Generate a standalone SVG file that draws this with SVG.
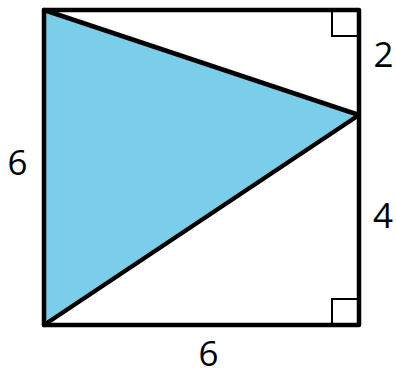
<svg xmlns="http://www.w3.org/2000/svg" width="396" height="375" viewBox="0 0 396 375">
<style>
.lbl{font-family:"Open Sans","Noto Sans",sans-serif;font-size:35px;fill:#000;text-anchor:middle}
.thick{fill:none;stroke:#000;stroke-width:4.5;stroke-linejoin:round;stroke-linecap:round}
.thin{fill:none;stroke:#000;stroke-width:2}
</style>
<rect width="396" height="375" fill="#fff"/>
<g id="triangle">
<polygon points="44,10 359,115 44,325" fill="#7ccde9" stroke="none"/>
</g>
<g id="square">
<rect x="44" y="10" width="315" height="315" class="thick"/>
<path d="M332,10 V36 H359" class="thin"/>
<path d="M332,325 V299 H359" class="thin"/>
</g>
<g id="connectors">
<polyline points="44,10 359,115 44,325" class="thick"/>
</g>
<g id="labels">
<text class="lbl" x="383.5" y="67">2</text>
<text class="lbl" x="383" y="228">4</text>
<text class="lbl" x="17.5" y="175">6</text>
<text class="lbl" x="208.5" y="366" font-size="34">6</text>
</g>
</svg>
